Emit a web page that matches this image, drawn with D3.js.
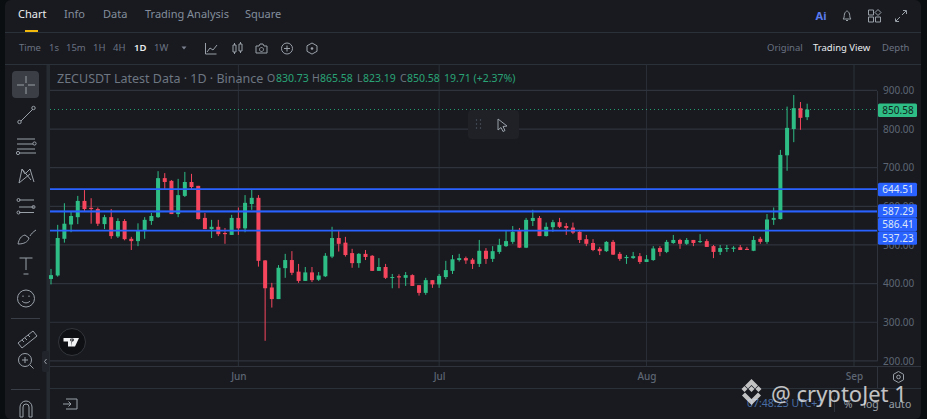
<!DOCTYPE html>
<html>
<head>
<meta charset="utf-8">
<script src="https://cdn.jsdelivr.net/npm/d3@7"></script>
<style>
  html, body { margin: 0; padding: 0; background: #0b0e11; overflow: hidden; }
  svg { display: block; font-family: "Noto Sans", sans-serif; }
  text { white-space: pre; }
  .ico { fill: none; stroke: #9aa0a8; stroke-width: 1; }
  .ico2 { fill: none; stroke: #5e6673; stroke-width: 1; }
</style>
</head>
<body>
<svg id="chart" width="927" height="419"></svg>
<script>
// daily candles, first one is 4 May
const firstDay = "2025-05-04";
const opens = [412,421,516,553,572,614,596,593,554,572,522,562,516,510,536,562,572,673,666,580,627,663,653,570,541,547,531,526,570,543,606,622,460,390,
  360,440,461,431,407,429,410,419,470,518,506,479,453,477,472,433,443,415,419,415,422,396,376,409,398,417,433,461,466,462,451,485,
  464,482,497,508,536,493,562,570,523,546,559,549,545,534,515,505,490,484,508,477,466,466,471,456,461,492,482,505,513,503,513,508,510,
  497,482,490,490,494,490,485,516,508,565,567,732,800,854,830.73];
const highs = [438,552,608,586,627,642,621,597,578,593,569,567,521,556,572,583,691,686,668,671,689,684,653,583,565,565,544,578,597,629,645,629,461,402,
  448,477,484,451,443,443,430,479,547,536,521,490,479,487,474,466,451,425,424,430,424,396,415,409,425,459,474,477,470,466,513,492,
  497,516,536,549,544,570,591,575,558,565,570,557,558,539,526,515,495,510,513,482,474,482,479,474,497,497,513,526,516,518,513,528,515,
  500,500,500,497,500,495,523,521,580,597,746,858,888,870,865.58];
const lows = [398,418,506,533,554,586,555,549,541,516,518,512,487,497,516,552,570,645,580,572,624,645,566,541,518,523,503,526,526,533,591,444,252,338,
  360,415,422,402,407,404,407,417,466,483,470,441,441,461,433,433,412,388,388,394,394,369,371,389,389,412,425,457,451,438,443,451,
  456,477,495,503,492,492,549,523,522,534,544,526,528,505,497,484,474,482,474,459,451,464,451,456,459,471,479,503,490,500,497,505,495,
  466,474,482,482,487,487,484,503,503,552,566,692,766,798,823.19];
const closes = [422,518,555,575,614,593,593,555,572,523,562,515,510,536,565,575,673,663,580,629,663,650,567,541,547,528,528,570,543,609,622,459,388,360,
  441,461,428,407,429,409,421,472,518,503,474,453,477,469,433,443,415,417,416,422,394,376,409,398,420,435,463,466,460,451,485,464,
  484,500,510,534,493,565,570,523,547,559,547,544,532,513,503,487,484,508,475,464,469,471,456,463,491,482,508,513,503,513,505,510,495,
  482,492,492,493,487,487,513,508,566,570,733,803,854,829,850.58];

const priceTicks = [900, 800, 700, 600, 500, 400, 300, 200];
const monthTicks = ["2025-06-01", "2025-07-01", "2025-08-01", "2025-09-01"];
const levels = [644.51, 587.29, 586.41, 537.23];
const lastPrice = 850.58;

const upColor = "#2ebd85";
const downColor = "#f6465d";
const bg = "#181a20";
const gridColor = "#2f333b";
const dim = "#848e9c";

const width = 927, height = 419;
const plot = { left: 50, right: 877, top: 64, bottom: 366 };

const svg = d3.select("#chart");
const parseDay = d3.utcParse("%Y-%m-%d");
const start = parseDay(firstDay);
const candles = opens.map((o, i) => ({
  date: d3.utcDay.offset(start, i), open: o, high: highs[i], low: lows[i], close: closes[i]
}));

const x = d3.scaleUtc().domain([start, parseDay("2025-09-01")]).range([51, 854]);
const y = d3.scaleLinear().domain([900, 200]).range([90.4, 360.9]);

// panel
svg.append("rect").attr("width", width).attr("height", height).attr("fill", "#0b0e11");
svg.append("rect").attr("x", 5).attr("width", 916).attr("height", height).attr("rx", 6).attr("fill", bg);

function line(x1, y1, x2, y2, col, w) {
  return svg.append("line").attr("x1", x1).attr("y1", y1).attr("x2", x2).attr("y2", y2)
    .attr("stroke", col || gridColor).attr("stroke-width", w || 1);
}
function label(str, px, py, size, col, anchor, weight) {
  return svg.append("text").attr("x", px).attr("y", py).attr("font-size", size)
    .attr("fill", col).attr("text-anchor", anchor || "start").attr("font-weight", weight || 400).text(str);
}

line(5, 32.5, 921, 32.5, "#2b3139");
line(5, 64.5, 921, 64.5, "#2b3139");
svg.append("rect").attr("x", 46.5).attr("y", 65).attr("width", 3.5).attr("height", 354).attr("fill", "#262a31");

// grid
svg.append("g").selectAll("line").data(monthTicks.map(parseDay)).join("line")
  .attr("x1", d => x(d)).attr("x2", d => x(d)).attr("y1", plot.top).attr("y2", plot.bottom)
  .attr("stroke", "#2b3038");
svg.append("g").selectAll("line").data(priceTicks).join("line")
  .attr("x1", plot.left).attr("x2", plot.right).attr("y1", d => y(d)).attr("y2", d => y(d))
  .attr("stroke", gridColor).attr("stroke-width", 1.2);

// candles
const candle = svg.append("g").selectAll("g").data(candles).join("g")
  .attr("fill", d => d.close >= d.open ? upColor : downColor)
  .attr("stroke", d => d.close >= d.open ? upColor : downColor);
candle.append("line")
  .attr("x1", d => x(d.date)).attr("x2", d => x(d.date))
  .attr("y1", d => y(d.high)).attr("y2", d => y(d.low))
  .attr("stroke-width", 1);
candle.append("rect")
  .attr("x", d => x(d.date) - 2).attr("width", 4)
  .attr("y", d => y(Math.max(d.open, d.close)))
  .attr("height", d => Math.max(1, Math.abs(y(d.open) - y(d.close))))
  .attr("stroke", "none");

// last price + drawn levels
line(plot.left, y(lastPrice), plot.right, y(lastPrice), upColor, 1).attr("stroke-dasharray", "1 3").attr("opacity", .8);
svg.append("g").selectAll("line").data(levels).join("line")
  .attr("x1", plot.left).attr("x2", plot.right).attr("y1", d => y(d)).attr("y2", d => y(d))
  .attr("stroke", "#2962ff").attr("stroke-width", 1.6);

// axes
const yAxis = svg.append("g").attr("transform", `translate(${plot.right},0)`)
  .call(d3.axisRight(y).tickValues(priceTicks).tickFormat(d3.format(".2f")).tickSize(0).tickPadding(6));
const xAxis = svg.append("g").attr("transform", `translate(0,${plot.bottom})`)
  .call(d3.axisBottom(x).tickValues(monthTicks.map(parseDay)).tickFormat(d3.utcFormat("%b")).tickSize(0).tickPadding(7));
yAxis.select(".domain").attr("stroke", "#2f333b");
xAxis.select(".domain").remove();
yAxis.selectAll("text").attr("font-size", 10).attr("fill", "#5e6673").attr("font-family", "Noto Sans");
xAxis.selectAll("text").attr("font-size", 10).attr("fill", "#5e6673").attr("font-family", "Noto Sans").attr("font-weight", 500);
line(50, plot.bottom + .5, 921, plot.bottom + .5, "#2f333b");
line(50, 388.5, 921, 388.5, "#2b3139");
line(877.5, 366, 877.5, 388, "#2f333b");

// price tags
const tagY = [189.5, 211, 224.5, 238];
svg.append("g").selectAll("g").data(levels).join(enter => {
  const g = enter.append("g");
  g.append("rect").attr("x", 878).attr("width", 39).attr("height", 13.5)
    .attr("y", (d, i) => tagY[i] - 6.75).attr("rx", 1.5).attr("fill", "#2962ff");
  g.append("text").attr("x", 898).attr("y", (d, i) => tagY[i] + 3.5).attr("text-anchor", "middle")
    .attr("font-size", 10).attr("fill", "#dfe6f5").text(d => d.toFixed(2));
  return g;
});
svg.append("rect").attr("x", 878).attr("y", y(lastPrice) - 6).attr("width", 39).attr("height", 13.5).attr("rx", 1.5).attr("fill", upColor);
label(lastPrice.toFixed(2), 898, y(lastPrice) + 4.5, 10, "#12241e", "middle");

// top tabs
[["Chart", 18, "#eaecef"], ["Info", 64, dim], ["Data", 103, dim], ["Trading Analysis", 145, dim], ["Square", 245, dim]]
  .forEach(t => label(t[0], t[1], 18, 11, t[2]));
svg.append("rect").attr("x", 25).attr("y", 30).attr("width", 13).attr("height", 2).attr("fill", "#f0b90b");

// timeframes
[["Time", 19, "#6b7280"], ["1s", 49, "#6b7280"], ["15m", 66, "#6b7280"], ["1H", 93, "#6b7280"], ["4H", 113, "#6b7280"], ["1D", 134, "#eaecef"], ["1W", 154, "#6b7280"]]
  .forEach(t => label(t[0], t[1], 51, 9.5, t[2], "start", t[0] == "1D" ? 600 : 400));
svg.append("path").attr("d", "M181.5 46.5h5l-2.5 3z").attr("fill", "#7a8290");
[["Original", 767, "#6b7280"], ["Trading View", 813, "#eaecef"], ["Depth", 882, "#6b7280"]]
  .forEach(t => label(t[0], t[1], 51, 9.5, t[2]));

// small toolbar icons
svg.append("path").attr("class", "ico").attr("d", "M205.5 43v11h11M207 52l3-4 3 2 4-5");
svg.append("path").attr("class", "ico").attr("d", "M233 45h3v7h-3zM239 44h3v7h-3zM234.500 43v2M234.500 52v2M240.500 42v2M240.500 51v2");
svg.append("path").attr("class", "ico").attr("d", "M256 46h3l1-2h3l1 2h3v7h-11zM261.500 47.500a2 2 0 1 0 .01 0");
svg.append("circle").attr("class", "ico").attr("cx", 287).attr("cy", 48.5).attr("r", 5.5);
svg.append("path").attr("class", "ico").attr("d", "M284 48.500h6M287 45.500v6");
svg.append("path").attr("class", "ico").attr("d", "M312 43l5 2.800v5.500l-5 2.800-5-2.800v-5.500z");
svg.append("circle").attr("cx", 312).attr("cy", 48.5).attr("r", 1.3).attr("fill", "#9aa0a8");

// right icons
label("Ai", 821, 20, 11, "#5b7cf0", "middle", 700);
svg.append("path").attr("class", "ico").attr("d", "M843 19c1.500-1 1-3 1.500-5 .5-2 2-3 2.500-3s2 1 2.500 3c.5 2 0 4 1.500 5zM846 20.500h2");
svg.append("path").attr("class", "ico").attr("d", "M868.500 10h5v5h-5zM868.500 17h5v5h-5zM875.500 17h5v5h-5zM878 9.500l3 3-3 3-3-3z");
svg.append("path").attr("class", "ico").attr("d", "M896 21l4-4M906 11l-4 4M903 10.500h3.500v3.500M895.500 18.500v3h3.500");

// legend
label("ZECUSDT Latest Data · 1D · Binance", 57, 83, 12.5, "#6e7681");
[["O", 267, "830.73", 276], ["H", 312, "865.58", 320], ["L", 357, "823.19", 363], ["C", 400, "850.58", 407]].forEach(t => {
  label(t[0], t[1], 82, 10.5, "#6e7681");
  label(t[2], t[3], 82, 10.5, upColor).attr("opacity", .85);
});
label("19.71 (+2.37%)", 444, 82, 10.5, upColor).attr("opacity", .85);

// floating toolbar
svg.append("rect").attr("x", 468).attr("y", 110).attr("width", 51).attr("height", 29).attr("rx", 4).attr("fill", "#1f2127");
svg.append("g").selectAll("circle").data([0, 1, 2, 3, 4, 5]).join("circle")
  .attr("cx", d => 476.5 + (d % 2) * 4).attr("cy", d => 120 + Math.floor(d / 2) * 4).attr("r", .7).attr("fill", "#555b65");
svg.append("path").attr("class", "ico").attr("stroke-width", 1.2).attr("d", "M498 119l9 7-4 .5 2 4-2 1-2-4-3 2.500z");

// left tools
svg.append("rect").attr("x", 12).attr("y", 71).attr("width", 27).attr("height", 27).attr("rx", 4).attr("fill", "#3b3e44");
svg.append("path").attr("class", "ico").attr("d", "M17 85h7M28 85h7M26 76v7M26 87v7").attr("stroke", "#d5d7da");
svg.append("path").attr("class", "ico").attr("d", "M21 121l12-12");
svg.append("circle").attr("class", "ico").attr("cx", 19.500).attr("cy", 122).attr("r", 1.700);
svg.append("circle").attr("class", "ico").attr("cx", 33.500).attr("cy", 108).attr("r", 1.700);
svg.append("path").attr("class", "ico").attr("d", "M17 139h18M17 144h16M17 149h18M19 153h17");
svg.append("circle").attr("class", "ico").attr("cx", 34.500).attr("cy", 143.500).attr("r", 1.600);
svg.append("circle").attr("class", "ico").attr("cx", 18).attr("cy", 153).attr("r", 1.600);
svg.append("path").attr("class", "ico").attr("d", "M19 183l3-14 3 5 5-5 4 13M19 183l11-9M22 169l9 11");
svg.append("path").attr("class", "ico").attr("d", "M19 200h15M19 207h15M19 212.500h15");
svg.append("circle").attr("class", "ico").attr("cx", 18.500).attr("cy", 200).attr("r", 1.500);
svg.append("circle").attr("class", "ico").attr("cx", 33.500).attr("cy", 207).attr("r", 1.500);
svg.append("circle").attr("class", "ico").attr("cx", 18.500).attr("cy", 212.500).attr("r", 1.500);
svg.append("path").attr("class", "ico").attr("d", "M18 244c1-5 3-8 7-9l4 3c-1 4-5 6-11 6zM30 236c1-2 3-4 6-6");
svg.append("path").attr("class", "ico").attr("d", "M19.500 258h13M26 258v12M23.500 274h5");
svg.append("circle").attr("class", "ico").attr("cx", 26).attr("cy", 298.500).attr("r", 8.500);
svg.append("path").attr("class", "ico").attr("d", "M22 301c2 2.500 6 2.500 8 0M23 295.500v1.500M29 295.500v1.500");
line(11, 318.500, 40, 318.500, "#3a3e46");
svg.append("path").attr("class", "ico").attr("d", "M18 343l15-12 4 5-15 12zM22 340l2 2M25 338l2 2M28 335l2 2");
svg.append("circle").attr("class", "ico").attr("cx", 25).attr("cy", 360).attr("r", 6.500);
svg.append("path").attr("class", "ico").attr("d", "M22 360h6M25 357v6M30 365l3.500 3.500");
line(11, 389.500, 40, 389.500, "#3a3e46");
svg.append("path").attr("class", "ico").attr("d", "M20 417v-10a6 6 0 0 1 12 0v10h-3v-10a3 3 0 0 0-6 0v10z");
svg.append("rect").attr("x", 42).attr("y", 351).attr("width", 7).attr("height", 21).attr("rx", 2).attr("fill", "#21242b");
svg.append("path").attr("class", "ico").attr("d", "M46.500 359l-2 2.500 2 2.500");

// TV logo
svg.append("circle").attr("cx", 72).attr("cy", 342).attr("r", 13.500).attr("fill", "#0e1013").attr("stroke", "#33363c");
svg.append("path").attr("fill", "#f2f3f5").attr("d", "M63.500 338h8v8.500h-3.500v-5h-4.500zM72.500 338h6.500l-4 8.500h-3.500zM72 338a1.800 1.800 0 1 0 .01 0");

// gear on the axis
svg.append("path").attr("class", "ico").attr("d", "M898.500 371.500l5 2.800v5.500l-5 2.800-5-2.800v-5.500z");
svg.append("circle").attr("class", "ico").attr("cx", 898.500).attr("cy", 377).attr("r", 1.800);

// bottom strip
svg.append("path").attr("class", "ico").attr("d", "M66 399h11v10h-11M63 404h8M68.500 401.500l2.500 2.500-2.500 2.500");
label("07:48:23 UTC+1", 747, 407, 10.5, "#4a6fa5");
line(834.500, 396, 834.500, 412, "#2f333b");
label("%", 848, 408, 10.5, "#9aa0a8", "middle");
label("log", 871, 408, 10.5, "#9aa0a8", "middle");
label("auto", 900, 408, 10.5, "#9aa0a8", "middle");

// watermark
const mark = svg.append("g").attr("fill", "#e8e8e8").attr("opacity", .82);
mark.append("path").attr("d", "M751.500 379l6.500 6.500-3 3-3.500-3.500-3.500 3.500-3-3zM741.500 389l3-3 3 3-3 3zM755.500 389l3-3 3 3-3 3zM748.500 389l3-3 3 3-3 3zM745 392.500l3.500 3.500 3 3 3-3 3.500-3.500 3 3-9.500 9.500-9.500-9.500z")
  .attr("transform", "translate(0,0)");
mark.append("text").attr("x", 771).attr("y", 402).attr("font-size", 22).attr("font-family", "Noto Sans").text("@ cryptoJet 1");
</script>
</body>
</html>
